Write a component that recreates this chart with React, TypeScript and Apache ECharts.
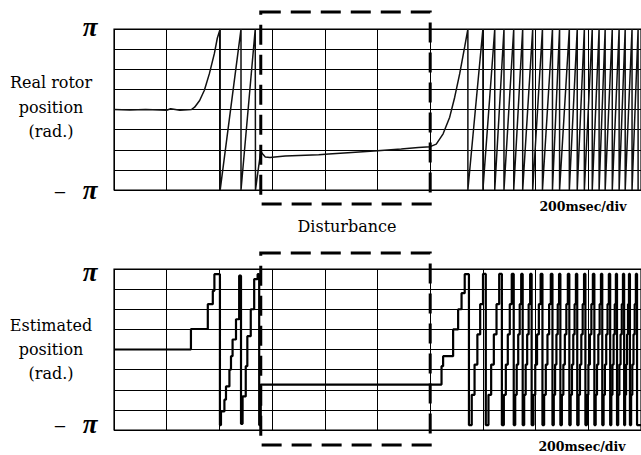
import React, { useEffect, useRef } from 'react';
import * as echarts from 'echarts';

const PI = Math.PI;

// time axis in msec (200 msec/div, 10 divisions)
const timeTicks = [0, 200, 400, 600, 800, 1000, 1200, 1400, 1600, 1800, 2000];

// Real rotor position: start-up, disturbance and re-acceleration [msec, rad]
const realStartup: [number, number][] = [
  [0, 0.0], [60, -0.02], [120, 0.0], [200, -0.03], [215, 0.03], [250, -0.03], [294, 0.0],
  [306, 0.09], [325, 0.35], [343, 0.75], [362, 1.4], [381, 2.19], [392, 2.78], [403, 3.14],
  [403, -3.14], [482, 3.14], [482, -3.14], [536, 3.14], [537, -3.14], [548, -2.3],
  [556, -1.72], [560, -1.68], [566, -1.76], [574, -1.85], [592, -1.87], [620, -1.84], [650, -1.81],
  [777, -1.77], [815, -1.74], [902, -1.68], [1000, -1.61], [1090, -1.54], [1155, -1.48], [1200, -1.45],
  [1223, -1.35], [1249, -0.95], [1274, -0.3], [1293, 0.48], [1312, 1.4], [1331, 2.45], [1343, 3.14],
];
// times at which the real position wraps from pi to -pi (fast region)
const realWrapTimes = [1343, 1400, 1445, 1480, 1517, 1551, 1589, 1626, 1664, 1691, 1728, 1758, 1785, 1815, 1841, 1864, 1891, 1917, 1940, 1966, 1989];

// Estimated position: plateaus [start msec, rad]
const estStartup: [number, number][] = [
  [0, 0], [292, 0.8], [356, 1.77], [375, 2.29], [381, 2.94], [402, -2.95], [406, -2.42], [419, -1.96],
  [425, -1.44], [438, -0.79], [444, -0.26], [450, 0.39], [463, 1.18], [475, 2.88], [482, -2.9],
  [488, -1.83], [500, -0.65], [506, 0.52], [519, 1.57], [532, 2.75], [545, 2.94], [551, -2.95],
  [557, -1.37], [1243, -0.65], [1249, -0.26], [1287, 0.785], [1306, 1.57], [1319, 2.2], [1331, 2.94],
];
const estWrapTimes = [1347, 1411, 1472, 1517, 1551, 1585, 1626, 1664, 1694, 1728, 1758, 1789, 1823, 1853, 1883, 1909, 1936, 1958, 1985];
const estLevels = [-2.95, -1.77, -0.59, 0.59, 1.77, 2.95];

const disturbance = [557, 1200];

function buildReal(): [number, number][] {
  const d: [number, number][] = realStartup.map((p) => [p[0], p[1]]);
  for (let i = 0; i < realWrapTimes.length; i++) {
    d.push([realWrapTimes[i], -PI]);
    if (i + 1 < realWrapTimes.length) d.push([realWrapTimes[i + 1], PI]);
  }
  return d;
}

function buildEst(): [number, number][] {
  const d: [number, number][] = estStartup.map((p) => [p[0], p[1]]);
  for (let i = 0; i < estWrapTimes.length; i++) {
    const t0 = estWrapTimes[i];
    const t1 = i + 1 < estWrapTimes.length ? estWrapTimes[i + 1] : null;
    if (t1 === null) {
      d.push([t0, estLevels[0]]);
      d.push([2000, estLevels[0]]);
    } else {
      estLevels.forEach((lv, k) => d.push([t0 + (k * (t1 - t0)) / estLevels.length, lv]));
    }
  }
  return d;
}

const SERIF = '"DejaVu Serif", "Liberation Serif", serif';

export default function App() {
  const ref = useRef<HTMLDivElement>(null);
  useEffect(() => {
    const chart = echarts.init(ref.current!, null, { renderer: 'svg' });
    const xAxisBase = {
      type: 'value' as const,
      min: timeTicks[0],
      max: timeTicks[timeTicks.length - 1],
      interval: timeTicks[1] - timeTicks[0],
      axisLabel: { show: false },
      axisTick: { show: false },
      axisLine: { show: false },
      splitLine: { show: true, lineStyle: { color: '#000', width: 1 } },
    };
    const yAxisBase = {
      type: 'value' as const,
      min: -PI,
      max: PI,
      interval: PI / 4,
      axisLabel: { show: false },
      axisTick: { show: false },
      axisLine: { show: false },
      splitLine: { show: true, lineStyle: { color: '#000', width: 1 } },
    };
    chart.setOption({
      animation: false,
      backgroundColor: '#fff',
      grid: [
        { left: 114, top: 29, width: 530, height: 161, show: true, borderColor: '#000', borderWidth: 1.2 },
        { left: 114, top: 269, width: 530, height: 161, show: true, borderColor: '#000', borderWidth: 1.2 },
      ],
      xAxis: [
        { ...xAxisBase, gridIndex: 0 },
        { ...xAxisBase, gridIndex: 1 },
      ],
      yAxis: [
        { ...yAxisBase, gridIndex: 0 },
        { ...yAxisBase, gridIndex: 1 },
      ],
      series: [
        {
          type: 'line',
          xAxisIndex: 0,
          yAxisIndex: 0,
          data: buildReal(),
          showSymbol: false,
          lineStyle: { color: '#111', width: 1.5 },
        },
        {
          type: 'line',
          xAxisIndex: 1,
          yAxisIndex: 1,
          data: buildEst(),
          step: 'end',
          showSymbol: false,
          lineStyle: { color: '#000', width: 2.2 },
        },
      ],
    });

    const xL = chart.convertToPixel({ gridIndex: 0 }, [disturbance[0], 0])[0];
    const xR = chart.convertToPixel({ gridIndex: 0 }, [disturbance[1], 0])[0];
    const txt = (text: string, x: number, y: number, font: string, align = 'center', lineHeight?: number) => ({
      type: 'text',
      x,
      y,
      style: {
        text,
        font,
        fill: '#000',
        textAlign: align,
        textVerticalAlign: 'middle',
        align,
        verticalAlign: 'middle',
        lineHeight,
      },
    });
    const box = (y0: number, y1: number) => ({
      type: 'rect',
      shape: { x: xL, y: y0, width: xR - xL, height: y1 - y0 },
      style: { fill: 'none', stroke: '#000', lineWidth: 3, lineDash: [20, 10] },
      z: 100,
    });
    const piFont = 'italic bold 27px "Liberation Serif", serif';
    const minusFont = '22px "Liberation Serif", serif';
    chart.setOption({
      graphic: [
        box(12, 204),
        box(253, 445),
        txt('π', 90, 27, piFont),
        txt('−', 60, 192, minusFont),
        txt('π', 90, 190, piFont),
        txt('π', 90, 272, piFont),
        txt('−', 60, 426, minusFont),
        txt('π', 90, 424, piFont),
        txt('Real rotor\nposition\n(rad.)', 51, 107, `16px ${SERIF}`, 'center', 24.5),
        txt('Estimated\nposition\n(rad.)', 51, 349, `16px ${SERIF}`, 'center', 24),
        txt('Disturbance', 347, 226, `16px ${SERIF}`),
        txt('200msec/div', 583, 206, `bold 12.5px ${SERIF}`),
        txt('200msec/div', 582, 446, `bold 12.5px ${SERIF}`),
      ],
    });
    return () => chart.dispose();
  }, []);
  return (
    <div
      ref={ref}
      style={{ position: 'absolute', left: 0, top: 0, width: 641, height: 455, background: '#fff' }}
    />
  );
}
